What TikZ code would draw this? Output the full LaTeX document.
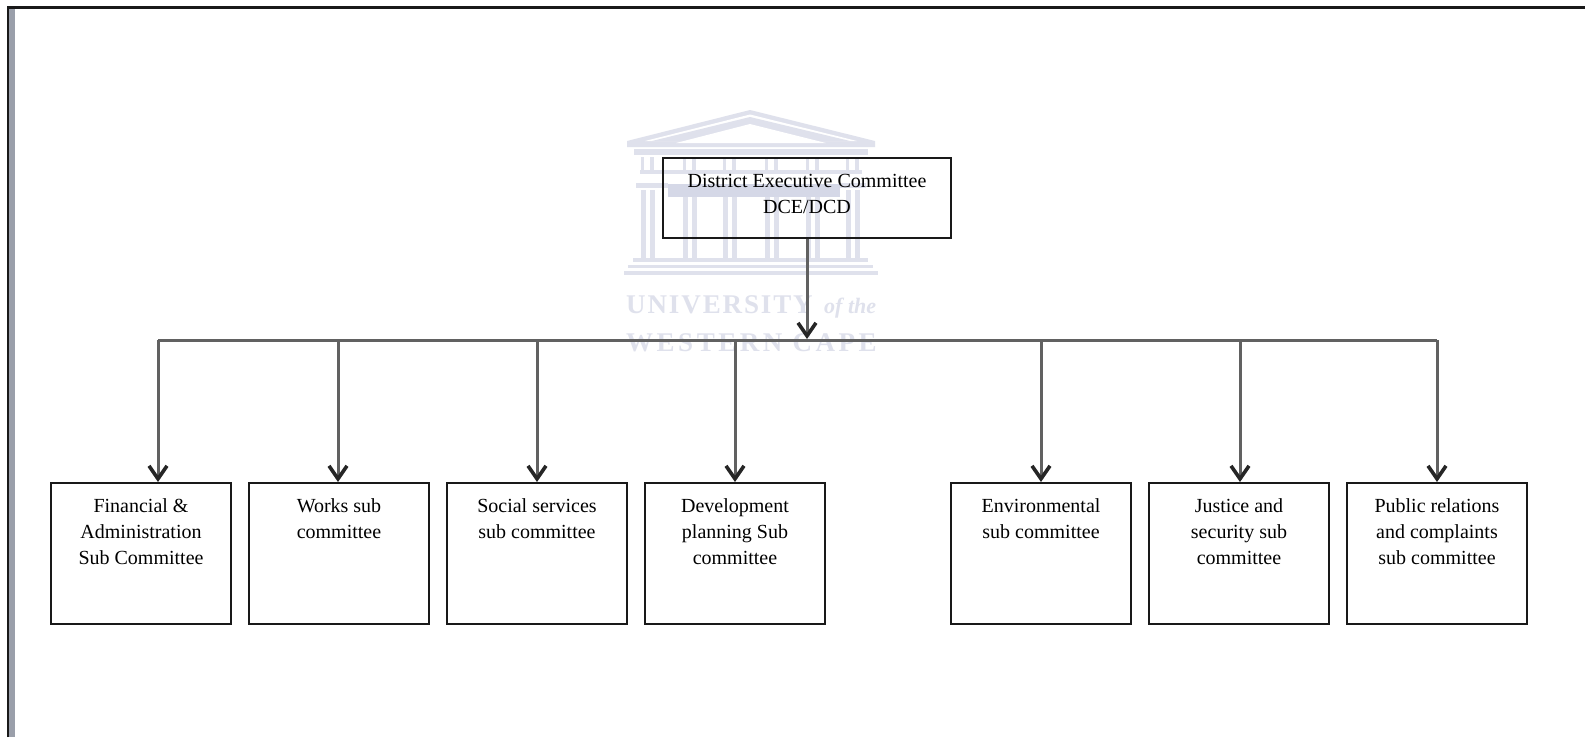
\documentclass[tikz,border=0pt]{standalone}
\usepackage{fontspec}
\setmainfont{Liberation Serif}
\usetikzlibrary{arrows.meta}
\definecolor{wm}{HTML}{DFE1EC}
\definecolor{wmd}{HTML}{D5D8E7}
\definecolor{strip}{HTML}{9A9FAA}
\newcommand{\boxtext}[3]{\parbox[t][#2pt][t]{#1pt}{\centering\fontsize{20}{26}\selectfont\vspace*{16pt}#3\par}}
\tikzset{
  x=1pt,y=-1pt,
  orgbox/.style={draw=black!90,line width=2pt,inner sep=0pt,fill=none,anchor=north west},
  link/.style={draw=black!62,line width=3pt},
  flow/.style={link,-{Straight Barb[length=13pt,width=18pt,line width=3.6pt,color=black!85]}},
  wmtext/.style={text=wm,font=\fontsize{27}{27}\selectfont\bfseries,anchor=base west,inner sep=0pt}
}
\begin{document}
\begin{tikzpicture}
\useasboundingbox (0,0) rectangle (1585,737);
\fill[white] (0,0) rectangle (1585,737);
% page edge
\fill[strip] (9,8) rectangle (14.5,737);
\draw[black!90,line width=2.2pt] (8,737) -- (8,7.5) -- (1585,7.5);
% watermark
\fill[wm] (627,141) -- (750,110) -- (875,141) -- (875,147) -- (627,147) -- cycle;
\fill[white] (645,141) -- (750,114.5) -- (857,141) -- cycle;
\fill[wm] (652,141) -- (750,117) -- (850,141) -- cycle;
\fill[white] (676,143) -- (750,124) -- (826,143) -- cycle;
\fill[wm] (634,149) rectangle (868,155);
\foreach \c in {648,690,730,772,813,853}{
  \fill[wm] (\c-7,157) rectangle (\c-4,170);
  \fill[wm] (\c+2,157) rectangle (\c+6,170);
  \fill[wm] (\c-7,190) rectangle (\c-2,258);
  \fill[wm] (\c+2,190) rectangle (\c+7,258);
}
\fill[wm] (640,170) rectangle (862,174);
\fill[wmd] (668,184) rectangle (840,197);
\fill[wm] (636,183) rectangle (668,188);
\fill[wm] (840,183) rectangle (866,188);
\fill[wm] (633,258) rectangle (868,262);
\fill[wm] (628,265) rectangle (873,268);
\fill[wm] (624,271) rectangle (878,275);
\node[wmtext] (wmA) at (626,313) {\addfontfeature{LetterSpace=7}UNIVERSITY};
\node[wmtext,font=\fontsize{22}{22}\selectfont\bfseries\itshape] (wmB) at (824,313) {of the};
\node[wmtext] (wmC) at (626,351) {\addfontfeature{LetterSpace=13}WESTERN CAPE};
% nodes
\node[orgbox] (top) at (662,157) {\boxtext{288}{80}{District Executive Committee\\DCE/DCD}};
\node[orgbox] (a) at (50,482) {\boxtext{180}{141}{Financial \&\\Administration\\Sub Committee}};
\node[orgbox] (b) at (248,482) {\boxtext{180}{141}{Works sub\\committee}};
\node[orgbox] (c) at (446,482) {\boxtext{180}{141}{Social services\\sub committee}};
\node[orgbox] (d) at (644,482) {\boxtext{180}{141}{Development\\planning Sub\\committee}};
\node[orgbox] (e) at (950,482) {\boxtext{180}{141}{Environmental\\sub committee}};
\node[orgbox] (f) at (1148,482) {\boxtext{180}{141}{Justice and\\security sub\\committee}};
\node[orgbox] (g) at (1346,482) {\boxtext{180}{141}{Public relations\\and complaints\\sub committee}};
% connectors
\coordinate (busC) at (807,339);
\coordinate (busL) at (158,340);
\coordinate (busR) at (1437,340);
\draw[link] (busL) -- (busR);
\draw[flow] (top.south -| busC) -- (busC);
\foreach \n/\x in {a/158,b/338,c/537,d/735,e/1041,f/1240,g/1437}{
  \coordinate (drop\n) at (\x,340);
  \draw[flow] (drop\n) -- (drop\n |- \n.north);
}
\end{tikzpicture}
\end{document}
